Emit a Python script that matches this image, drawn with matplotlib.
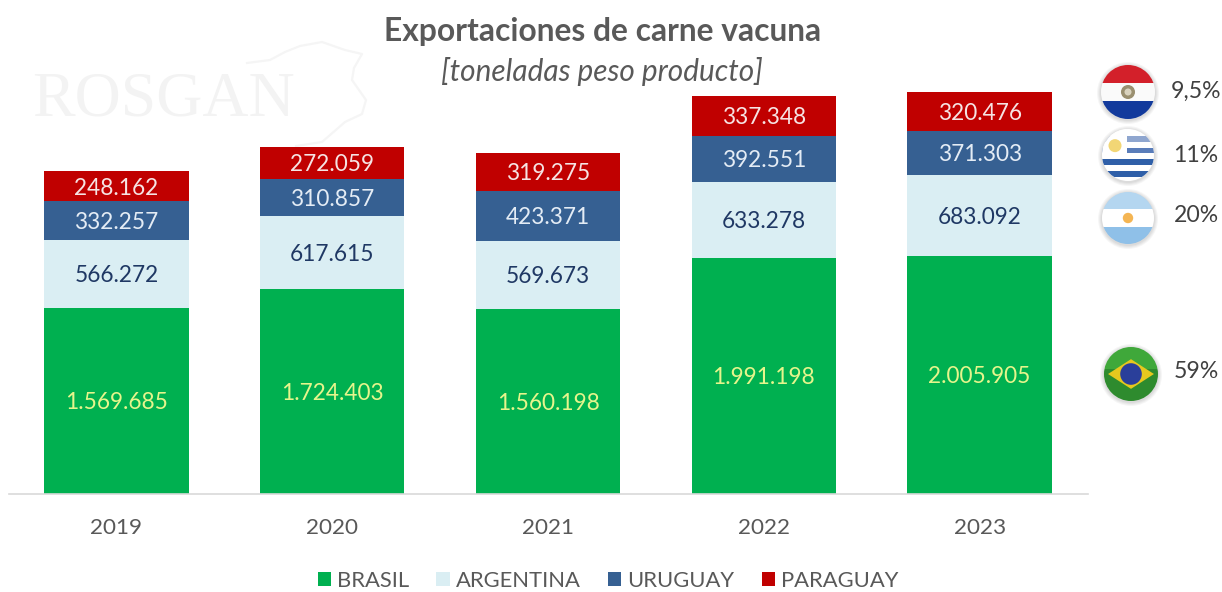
# -*- coding: utf-8 -*-
import numpy as np
import matplotlib
matplotlib.use("Agg")
import matplotlib.pyplot as plt
from matplotlib.patches import Circle, Rectangle, Polygon

### DATA
years = ["2019", "2020", "2021", "2022", "2023"]
brasil = [1569685, 1724403, 1560198, 1991198, 2005905]
argentina = [566272, 617615, 569673, 633278, 683092]
uruguay = [332257, 310857, 423371, 392551, 371303]
paraguay = [248162, 272059, 319275, 337348, 320476]
shares = ["9,5%", "11%", "20%", "59%"]

series_names = ["BRASIL", "ARGENTINA", "URUGUAY", "PARAGUAY"]
series_colors = ["#00B050", "#DAEEF3", "#366092", "#C00000"]
label_colors = ["#E6F58C", "#1F3864", "#E4ECF5", "#F6E3E3"]

plt.rcParams["font.family"] = ["Lato", "DejaVu Sans"]
W, H = 1222, 592
fig = plt.figure(figsize=(W / 100, H / 100), dpi=100)

# axes placed so that the baseline sits at pixel row 494
px_per_ton = 1 / 8420
ax = fig.add_axes([8.5 / W, (H - 494) / H, 1079 / W, 404 / H])
ax.set_xlim(-0.5, 4.5)
ax.set_ylim(0, 404 / px_per_ton)
ax.patch.set_alpha(0)
ax.set_zorder(2)

def fmt(v):
    return f"{v:,}".replace(",", ".")

bottom = np.zeros(len(years))
for vals, name, col, lab in zip([brasil, argentina, uruguay, paraguay], series_names, series_colors, label_colors):
    bars = ax.bar(years, vals, 0.67, bottom=bottom, color=col, label=name)
    texts = ax.bar_label(bars, labels=[fmt(v) for v in vals], label_type="center", color=lab, fontsize=16.3)
    for t in texts:
        t.xyann = (0, -1.4)  # labels sit a little under the centre
    bottom = bottom + np.array(vals)

for s in ["top", "left", "right"]:
    ax.spines[s].set_visible(False)
ax.spines["bottom"].set_color("#D9D9D9")
ax.spines["bottom"].set_linewidth(1.2)
ax.set_yticks([])
ax.tick_params(axis="x", length=0, pad=17, labelsize=16.2, labelcolor="#595959")

ax.legend(loc="center", bbox_to_anchor=(608 / W, (H - 581) / H), bbox_transform=fig.transFigure,
          ncol=4, frameon=False, fontsize=15.8, labelcolor="#595959", borderpad=0, borderaxespad=0,
          handlelength=0.6, handleheight=0.6, handletextpad=0.28, columnspacing=1.25)

# overlay in pixel coordinates for title, watermark and flags
ov = fig.add_axes([0, 0, 1, 1], zorder=1)
ov.set_xlim(0, W)
ov.set_ylim(H, 0)
ov.axis("off")
top = fig.add_axes([0, 0, 1, 1], zorder=3)
top.set_xlim(0, W)
top.set_ylim(H, 0)
top.axis("off")
top.patch.set_alpha(0)

top.text(603, 32, "Exportaciones de carne vacuna", ha="center", va="center",
         fontsize=22.9, fontweight="bold", color="#595959")
top.text(602, 71, "[toneladas peso producto]", ha="center", va="center",
         fontsize=21.4, style="italic", color="#595959")

# ROSGAN watermark
ov.text(163, 101, "ROSGAN", ha="center", va="center", family="Liberation Serif",
        fontsize=46, color="#F3F3F3")
cow = [(247, 63), (270, 60), (285, 52), (300, 46), (322, 42), (345, 50), (362, 54),
       (354, 68), (352, 80), (366, 100), (362, 114), (345, 122), (322, 142), (296, 146)]
ov.plot(*zip(*cow), color="#F5F5F5", lw=1.6)


def flag(cx, cy, r, stripes, extra=None):
    # soft shadow made of a few see-through rings
    for grow in [4, 3, 2, 1]:
        top.add_patch(Circle((cx, cy + 1), r + grow, color="#000000", alpha=0.035, lw=0))
    clip = Circle((cx, cy), r, transform=top.transData)
    for y0, y1, c in stripes:
        p = Rectangle((cx - r, cy + y0 * r), 2 * r, (y1 - y0) * r, color=c, lw=0)
        top.add_patch(p)
        p.set_clip_path(clip)
    if extra:
        extra(cx, cy, r, clip)


def py_extra(cx, cy, r, clip):
    top.add_patch(Circle((cx, cy), r * 0.26, color="#9A8F70", lw=0))
    top.add_patch(Circle((cx, cy), r * 0.13, color="#D9D2BE", lw=0))


def uy_extra(cx, cy, r, clip):
    p = Rectangle((cx - r, cy - r), r * 0.95, r, color="white", lw=0)
    top.add_patch(p)
    p.set_clip_path(clip)
    top.add_patch(Circle((cx - r * 0.5, cy - r * 0.36), r * 0.25, color="#F2D675", lw=0))


def ar_extra(cx, cy, r, clip):
    top.add_patch(Circle((cx, cy), r * 0.2, color="#F4B553", lw=0))


def br_extra(cx, cy, r, clip):
    top.add_patch(Polygon([(cx - r * 0.85, cy), (cx, cy - r * 0.55), (cx + r * 0.85, cy), (cx, cy + r * 0.55)],
                          color="#E6C81E", lw=0))
    top.add_patch(Circle((cx, cy), r * 0.4, color="#2A3F9A", lw=0))


flag(1128, 92, 27, [(-1, -0.33, "#D3202A"), (-0.33, 0.33, "#FAFAFA"), (0.33, 1, "#123A9C")], py_extra)
flag(1128, 155, 26, [(-1, 1, "#FFFFFF"), (-0.72, -0.5, "#8FA6CF"), (-0.28, -0.06, "#5A7DBA"),
                     (0.16, 0.38, "#2F5FA8"), (0.62, 0.84, "#2F5FA8")], uy_extra)
flag(1128, 218, 26, [(-1, -0.36, "#B4D6F0"), (-0.36, 0.36, "#FFFFFF"), (0.36, 1, "#8FC0E8")], ar_extra)
flag(1131, 374, 27, [(-1, -0.2, "#3FA83A"), (-0.2, 1, "#2E8B2E")], br_extra)

for s, y in zip(shares, [91, 155, 215, 372]):
    top.text(1196, y, s, ha="center", va="center", fontsize=16.6, color="#404040")

fig.savefig("out.png", dpi=100)
